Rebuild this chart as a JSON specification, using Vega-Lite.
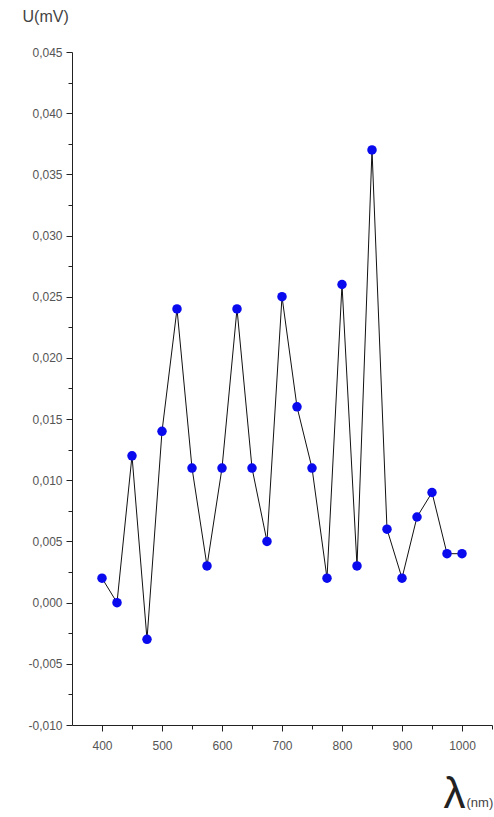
{
  "$schema": "https://vega.github.io/schema/vega-lite/v6.json",
  "autosize": {"type": "none"},
  "width": 420,
  "height": 673,
  "padding": {"left": 72, "top": 52, "right": 2, "bottom": 92},
  "background": "white",
  "config": {"view": {"stroke": null}, "axis": {"grid": false, "labelFont": "Arial, Liberation Sans", "titleFont": "Arial, Liberation Sans"}},
  "data": {"values": [
    {"wl": 400, "u": 0.002}, {"wl": 425, "u": 0.000}, {"wl": 450, "u": 0.012}, {"wl": 475, "u": -0.003},
    {"wl": 500, "u": 0.014}, {"wl": 525, "u": 0.024}, {"wl": 550, "u": 0.011}, {"wl": 575, "u": 0.003},
    {"wl": 600, "u": 0.011}, {"wl": 625, "u": 0.024}, {"wl": 650, "u": 0.011}, {"wl": 675, "u": 0.005},
    {"wl": 700, "u": 0.025}, {"wl": 725, "u": 0.016}, {"wl": 750, "u": 0.011}, {"wl": 775, "u": 0.002},
    {"wl": 800, "u": 0.026}, {"wl": 825, "u": 0.003}, {"wl": 850, "u": 0.037}, {"wl": 875, "u": 0.006},
    {"wl": 900, "u": 0.002}, {"wl": 925, "u": 0.007}, {"wl": 950, "u": 0.009}, {"wl": 975, "u": 0.004},
    {"wl": 1000, "u": 0.004}
  ]},
  "layer": [
    {
      "mark": {"type": "line", "color": "#111111", "strokeWidth": 1},
      "encoding": {
        "x": {"field": "wl", "type": "quantitative", "scale": {"domain": [350, 1050], "nice": false, "zero": false},
          "axis": {"orient": "bottom", "values": [400, 500, 600, 700, 800, 900, 1000], "format": "d", "tickSize": 6, "tickColor": "#222", "domainColor": "#222",
            "labelColor": "#555", "labelFontSize": 12, "labelPadding": 9,
            "title": "λ", "titleFontSize": 44, "titleFontWeight": "normal", "titleColor": "#222", "titleFont": "Liberation Sans",
            "titleAnchor": "end", "titleAlign": "right", "titleX": 393, "titleY": 82, "titleBaseline": "alphabetic"}},
        "y": {"field": "u", "type": "quantitative", "scale": {"domain": [-0.010, 0.045], "nice": false, "zero": false},
          "axis": {"orient": "left", "values": [-0.010, -0.005, 0.000, 0.005, 0.010, 0.015, 0.020, 0.025, 0.030, 0.035, 0.040, 0.045],
            "labelExpr": "replace(replace(format(datum.value, '.3f'), '.', ','), '\u2212', '-')",
            "tickSize": 6, "tickColor": "#222", "domainColor": "#222", "labelColor": "#555", "labelFontSize": 12, "labelPadding": 4,
            "title": "U(mV)", "titleAngle": 0, "titleFontSize": 16, "titleFontWeight": "normal", "titleColor": "#444",
            "titleX": -50, "titleY": -36, "titleAlign": "left", "titleBaseline": "middle"}}
      }
    },
    {
      "mark": {"type": "point", "filled": true, "color": "#0a0aee", "opacity": 1, "size": 90},
      "encoding": {
        "x": {"field": "wl", "type": "quantitative",
          "axis": {"orient": "bottom", "values": [450, 550, 650, 750, 850, 950, 1050], "labels": false, "domain": false, "tickSize": 4, "tickColor": "#222",
            "title": "(nm)", "titleFontSize": 13, "titleFontWeight": "normal", "titleColor": "#444", "titleX": 394, "titleY": 81, "titleAlign": "left", "titleBaseline": "alphabetic"}},
        "y": {"field": "u", "type": "quantitative",
          "axis": {"orient": "left", "values": [-0.0075, -0.0025, 0.0025, 0.0075, 0.0125, 0.0175, 0.0225, 0.0275, 0.0325, 0.0375, 0.0425], "labels": false, "domain": false, "tickSize": 4, "tickColor": "#222", "title": null}}
      }
    }
  ],
  "resolve": {"axis": {"x": "independent", "y": "independent"}}
}
